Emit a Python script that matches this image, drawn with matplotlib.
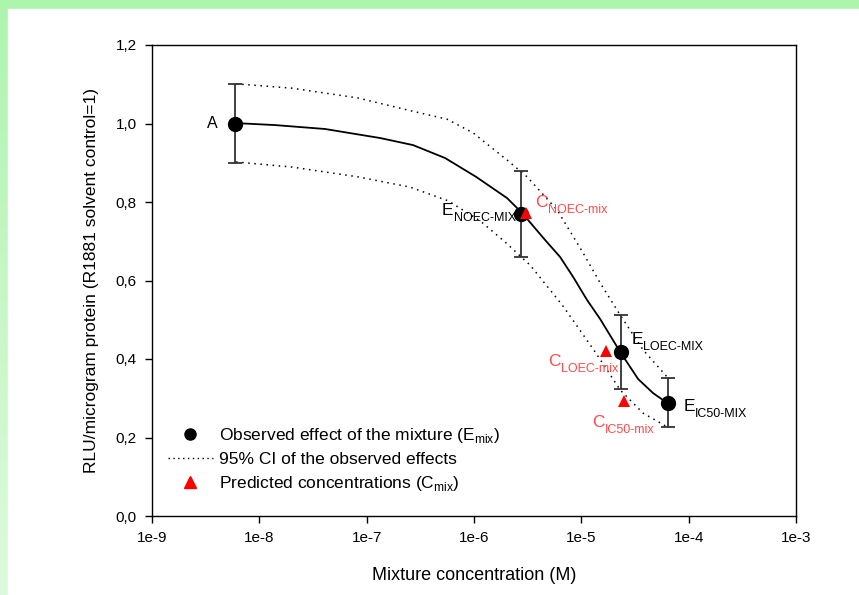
import numpy as np
import matplotlib
matplotlib.use('Agg')
import matplotlib.pyplot as plt
from matplotlib.lines import Line2D
from matplotlib.patches import Rectangle

plt.rcParams['font.family'] = ['Liberation Sans', 'DejaVu Sans']

# observed effects of the mixture (E_mix)
obs_conc = [5.9e-9, 2.75e-6, 2.35e-5, 6.4e-5]
obs_eff = [1.0, 0.77, 0.418, 0.289]
obs_lo = [0.90, 0.66, 0.324, 0.227]
obs_hi = [1.10, 0.879, 0.512, 0.352]
obs_names = ['A', 'NOEC-MIX', 'LOEC-MIX', 'IC50-MIX']

# predicted concentrations (C_mix)
pred_conc = [3.05e-6, 1.70e-5, 2.5e-5]
pred_eff = [0.772, 0.42, 0.293]
pred_names = ['NOEC-mix', 'LOEC-mix', 'IC50-mix']

# fitted curve (log10 concentration, effect)
fit_logx = [-8.217, -7.854, -7.388, -6.875, -6.568, -6.269, -5.980, -5.692, -5.552,
            -5.337, -5.198, -5.076, -4.946, -4.825, -4.638, -4.471, -4.331, -4.200]
fit_y = [1.001, 0.996, 0.986, 0.963, 0.945, 0.912, 0.864, 0.810, 0.772,
         0.703, 0.660, 0.609, 0.550, 0.502, 0.418, 0.349, 0.313, 0.288]

# 95% CI of the observed effects
ci_hi_logx = [-8.217, -7.695, -7.080, -6.614, -6.251, -6.008, -5.692,
              -5.505, -5.226, -4.983, -4.825, -4.638, -4.424, -4.200]
ci_hi_y = [1.101, 1.090, 1.065, 1.034, 1.011, 0.976, 0.907,
           0.864, 0.780, 0.670, 0.594, 0.512, 0.423, 0.354]
ci_lo_logx = [-8.217, -7.695, -7.080, -6.596, -6.241, -5.943, -5.710,
              -5.477, -5.179, -4.871, -4.638, -4.424, -4.200]
ci_lo_y = [0.902, 0.889, 0.864, 0.838, 0.803, 0.752, 0.698,
           0.639, 0.538, 0.418, 0.321, 0.262, 0.227]

yticks = [0.0, 0.2, 0.4, 0.6, 0.8, 1.0, 1.2]
xticks = [1e-9, 1e-8, 1e-7, 1e-6, 1e-5, 1e-4, 1e-3]
xticklabels = ['1e-9', '1e-8', '1e-7', '1e-6', '1e-5', '1e-4', '1e-3']

RED = '#ff4a4a'

fig = plt.figure(figsize=(8.59, 5.95), dpi=100)

# green frame in the background
bg = fig.add_axes([0, 0, 1, 1], zorder=-10)
grad = np.linspace(0, 1, 256)[:, None]
top = np.array([0.68, 0.96, 0.68])
bot = np.array([0.87, 0.98, 0.87])
img = top[None, None, :] * (1 - grad[:, :, None]) + bot[None, None, :] * grad[:, :, None]
bg.imshow(img, aspect='auto', extent=[0, 1, 0, 1])
bg.add_patch(Rectangle((8 / 859, 0), 1, 1 - 9 / 595, color='white'))
bg.set_xlim(0, 1)
bg.set_ylim(0, 1)
bg.axis('off')

ax = fig.add_axes([152 / 859, 1 - 516 / 595, 644 / 859, 471 / 595])
ax.set_xscale('log')
ax.set_xlim(1e-9, 1e-3)
ax.set_ylim(0, 1.2)

ax.plot(10 ** np.array(fit_logx), fit_y, color='black', lw=1.3, zorder=2)
ax.plot(10 ** np.array(ci_hi_logx), ci_hi_y, color='black', lw=1.1,
        linestyle=(0, (1, 3)), zorder=2)
ax.plot(10 ** np.array(ci_lo_logx), ci_lo_y, color='black', lw=1.1,
        linestyle=(0, (1, 3)), zorder=2)

yerr = [np.array(obs_eff) - np.array(obs_lo), np.array(obs_hi) - np.array(obs_eff)]
ax.errorbar(obs_conc, obs_eff, yerr=yerr, fmt='o', color='black', ms=10,
            ecolor='#333333', elinewidth=1.3, capsize=5, capthick=1.3, zorder=3)
ax.plot(pred_conc, pred_eff, '^', color='red', ms=9, zorder=4, markeredgewidth=0)

# labels
ax.text(obs_conc[0] / 1.45, obs_eff[0], obs_names[0], fontsize=11.5,
        ha='right', va='center')


def px2data(px, py):
    lx = -9 + (px - 152) / 107.3
    return 10 ** lx, (516 - py) / 392.5


def sublabel(pos, main, sub, color):
    t = ax.annotate(main, xy=pos, fontsize=12.5, color=color,
                    ha='left', va='baseline')
    ax.annotate(sub, xy=(1, 0), xycoords=t, xytext=(0, -2.5),
                textcoords='offset points', fontsize=9, color=color,
                ha='left', va='baseline')


sublabel(px2data(442, 215), 'E', obs_names[1], 'black')
sublabel(px2data(631, 344), 'E', obs_names[2], 'black')
sublabel(px2data(683, 411), 'E', obs_names[3], 'black')
sublabel(px2data(535, 207), 'C', pred_names[0], RED)
sublabel(px2data(548, 366), 'C', pred_names[1], RED)
sublabel(px2data(592, 427), 'C', pred_names[2], RED)

ax.set_yticks(yticks)
ax.set_yticklabels([('%.1f' % v).replace('.', ',') for v in yticks])
ax.set_xticks(xticks)
ax.set_xticklabels(xticklabels)
ax.minorticks_off()
ax.tick_params(direction='out', length=5, width=1, labelsize=11, pad=6)
for s in ax.spines.values():
    s.set_linewidth(1.0)

ax.set_xlabel('Mixture concentration (M)', fontsize=13, labelpad=16)
ax.set_ylabel('RLU/microgram protein (R1881 solvent control=1)', fontsize=12.5, labelpad=12)

handles = [
    Line2D([], [], marker='o', color='black', ls='none', ms=8),
    Line2D([], [], color='black', lw=1.0, linestyle=(0, (1, 2.5))),
    Line2D([], [], marker='^', color='red', ls='none', ms=8),
]
labels = [r'Observed effect of the mixture (E$_{\mathregular{mix}}$)',
          '95% CI of the observed effects',
          r'Predicted concentrations (C$_{\mathregular{mix}}$)']
ax.legend(handles, labels, loc='upper left', bbox_to_anchor=(0.0, 0.225),
          frameon=False, fontsize=12.5, handlelength=2.6, handletextpad=0.35,
          labelspacing=0.42)

fig.savefig('out.png', dpi=100)
